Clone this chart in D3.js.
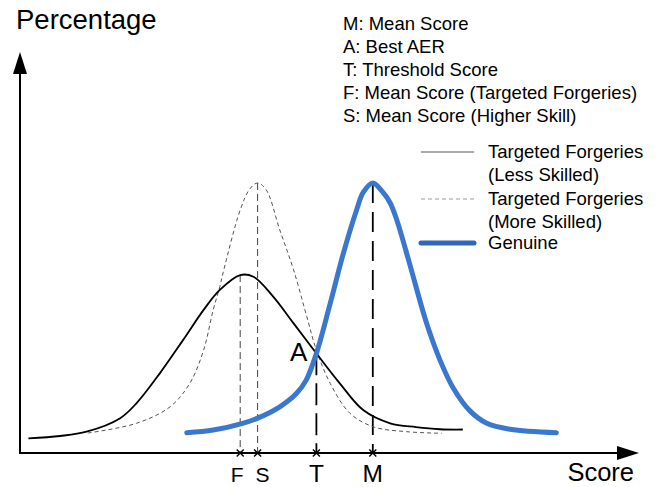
<!DOCTYPE html>
<html>
<head>
<meta charset="utf-8">
<script src="https://cdn.jsdelivr.net/npm/d3@7"></script>
<style>
  html, body { margin: 0; padding: 0; background: #fff; }
  svg { display: block; }
  text { font-family: "Liberation Sans", Arial, Helvetica, sans-serif; fill: #000; }
</style>
</head>
<body>
<svg id="chart" width="657" height="487"></svg>
<script>
// ---- data (score on x, percentage on y) ----
const lessScore = [1.4, 6.7, 11.1, 16.7, 19.4, 23.3, 27.2, 30.6, 33.3, 36.7, 38.9, 42.2, 45.6, 49.4, 53.3, 57.2, 61.7, 66.0, 70.0, 73.8];
const lessPct   = [5.4, 6.3, 7.9, 12.9, 18.4, 29.5, 41.9, 53.0, 60.4, 65.9, 65.3, 57.9, 48.0, 36.9, 25.8, 15.9, 11.0, 9.6, 8.8, 8.7];

const moreScore = [11.3, 19.4, 25.0, 28.3, 30.6, 32.2, 33.3, 34.0, 36.7, 38.3, 39.6, 41.0, 43.3, 45.6, 47.8, 49.4, 51.7, 55.0, 58.9, 64.4, 70.3];
const morePct   = [7.4, 11.0, 17.1, 25.8, 38.1, 53.0, 61.6, 68.1, 90.0, 97.8, 100, 97.6, 82.6, 67.8, 50.5, 38.1, 25.8, 14.7, 9.7, 7.9, 7.3];

const genScore = [27.8, 32.2, 37.1, 39.6, 43.3, 46.1, 47.7, 49.4, 51.7, 53.9, 56.1, 57.2, 58.8, 60.5, 61.7, 62.8, 65.0, 67.7, 70.0, 72.2, 75.0, 77.8, 81.7, 89.4];
const genPct   = [7.5, 8.5, 11.0, 12.9, 17.1, 22.1, 27.0, 36.9, 55.4, 74.0, 90.0, 96.5, 100, 96.5, 92.6, 86.3, 69.6, 48.5, 34.4, 24.1, 15.6, 11.0, 8.8, 7.5];

const tickLabels = ["F", "S", "T", "M"];
const tickValues = [36.7, 39.6, 49.4, 58.8];
const tickPeaks  = [65.9, 100, 36.9, 100];   // where each marker line starts
const pointA = [49.4, 36.9];

const notes = ["M: Mean Score", "A: Best AER", "T: Threshold Score",
               "F: Mean Score (Targeted Forgeries)", "S: Mean Score (Higher Skill)"];
const legendLabels = [["Targeted Forgeries", "(Less Skilled)"],
                      ["Targeted Forgeries", "(More Skilled)"],
                      ["Genuine"]];

// ---- drawing ----
const svg = d3.select("#chart");
const x = d3.scaleLinear().domain([0, 100]).range([20, 620]);
const y = d3.scaleLinear().domain([0, 100]).range([453, 183]);

const line = d3.line().x(d => x(d[0])).y(d => y(d[1])).curve(d3.curveCatmullRom.alpha(0.5));
const zip = (a, b) => a.map((v, i) => [v, b[i]]);

// marker lines
const markerStyles = [
  { stroke: "#444", width: 1, dash: "7,4" },
  { stroke: "#444", width: 1, dash: "7,4" },
  { stroke: "#000", width: 1.8, dash: "22,8" },
  { stroke: "#000", width: 1.8, dash: "20,9" }
];
tickValues.forEach((v, i) => {
  const s = markerStyles[i];
  svg.append("line")
    .attr("x1", x(v)).attr("x2", x(v))
    .attr("y1", y(tickPeaks[i])).attr("y2", y(0))
    .attr("stroke", s.stroke).attr("stroke-width", s.width)
    .attr("stroke-dasharray", s.dash);
});

// curves
svg.append("path").datum(zip(moreScore, morePct)).attr("d", line)
  .attr("fill", "none").attr("stroke", "#555").attr("stroke-width", 1)
  .attr("stroke-dasharray", "4,3");
svg.append("path").datum(zip(lessScore, lessPct)).attr("d", line)
  .attr("fill", "none").attr("stroke", "#000").attr("stroke-width", 1.8);
svg.append("path").datum(zip(genScore, genPct)).attr("d", line)
  .attr("fill", "none").attr("stroke", "#3a78cf").attr("stroke-width", 5)
  .attr("stroke-linecap", "round");

// axes with arrows
svg.append("line").attr("x1", x(0)).attr("x2", 622).attr("y1", y(0)).attr("y2", y(0))
  .attr("stroke", "#000").attr("stroke-width", 2);
svg.append("line").attr("x1", x(0)).attr("x2", x(0)).attr("y1", y(0) + 1).attr("y2", 72)
  .attr("stroke", "#000").attr("stroke-width", 2);
svg.append("path").attr("d", `M639,${y(0)} L617,${y(0) - 7} L617,${y(0) + 7} Z`).attr("fill", "#000");
svg.append("path").attr("d", `M${x(0)},52 L${x(0) - 7},74 L${x(0) + 7},74 Z`).attr("fill", "#000");

// tick crosses
tickValues.forEach(v => {
  const cx = x(v), cy = y(0), r = 3.5;
  svg.append("path").attr("d", `M${cx - r},${cy - r}L${cx + r},${cy + r}M${cx - r},${cy + r}L${cx + r},${cy - r}`)
    .attr("stroke", "#000").attr("stroke-width", 1.4);
});

// tick labels
const tickFont = [21, 21, 24.5, 24.5];
tickLabels.forEach((t, i) => {
  svg.append("text").attr("x", x(tickValues[i]) + (i === 0 ? -3 : i === 1 ? 5 : 0))
    .attr("y", 482).attr("text-anchor", "middle")
    .attr("font-size", tickFont[i]).text(t);
});

// point A label
svg.append("text").attr("x", x(pointA[0]) - 9).attr("y", y(pointA[1]) + 8)
  .attr("text-anchor", "end").attr("font-size", 26).text("A");

// axis titles
svg.append("text").attr("x", 16).attr("y", 29).attr("font-size", 27.5).text("Percentage");
svg.append("text").attr("x", 634).attr("y", 481).attr("text-anchor", "end").attr("font-size", 25.5).text("Score");

// notes
notes.forEach((t, i) => {
  svg.append("text").attr("x", 343).attr("y", 30 + i * 23).attr("font-size", 18.5).text(t);
});

// legend
const legendY = [152, 199, 243];
const legendStyle = [
  { stroke: "#555", width: 1, dash: null },
  { stroke: "#999", width: 1, dash: "4,3" },
  { stroke: "#3068b8", width: 5, dash: null }
];
legendLabels.forEach((lines, i) => {
  const st = legendStyle[i];
  svg.append("line").attr("x1", 421).attr("x2", 474).attr("y1", legendY[i]).attr("y2", legendY[i])
    .attr("stroke", st.stroke).attr("stroke-width", st.width)
    .attr("stroke-dasharray", st.dash).attr("stroke-linecap", i === 2 ? "round" : "butt");
  lines.forEach((t, j) => {
    svg.append("text").attr("x", 488).attr("y", legendY[i] + 6 + j * 23)
      .attr("font-size", 18.5).text(t);
  });
});
</script>
</body>
</html>
